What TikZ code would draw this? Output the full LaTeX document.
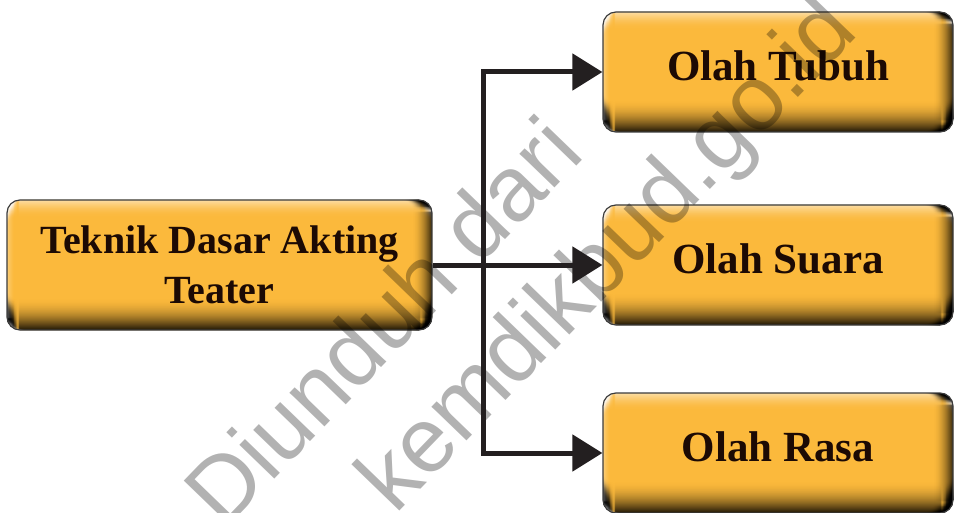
\documentclass[tikz,border=0pt]{standalone}
\usepackage{fontspec}
\setmainfont{Liberation Serif}
\newfontfamily\wmfont{Liberation Sans}
\usetikzlibrary{arrows.meta,calc}

\definecolor{boxbase}{HTML}{FBB93C}
\definecolor{txtc}{HTML}{1C0A04}
\definecolor{linec}{HTML}{231F20}
\definecolor{borderc}{HTML}{3C3C3C}

\tikzset{
  bevel/.style={path picture={
    \foreach \k [evaluate=\k as \op using {0.82*(1-\k/32)*(1-\k/32)}] in {0,...,31}
      \fill[black, opacity=\op] ($(path picture bounding box.south west)+(0,\k)$) rectangle ($(path picture bounding box.south east)+(0,\k+1)$);
    \foreach \k [evaluate=\k as \op using {0.5*(1-\k/18)*(1-\k/18)}] in {0,...,17}
      \fill[white, opacity=\op] ($(path picture bounding box.north west)+(0,-\k-1)$) rectangle ($(path picture bounding box.north east)+(0,-\k)$);
    \foreach \k [evaluate=\k as \op using {0.7*(1-\k/20)*(1-\k/20)}] in {0,...,19}
      \fill[black, opacity=\op] ($(path picture bounding box.south east)+(-\k-1,0)$) rectangle ($(path picture bounding box.north east)+(-\k,0)$);
    \foreach \k [evaluate=\k as \op using {0.3*(1-\k/8)*(1-\k/8)}] in {0,...,7}
      \fill[white, opacity=\op] ($(path picture bounding box.south west)+(\k,0)$) rectangle ($(path picture bounding box.north west)+(\k+1,0)$);
  }},
  goldbox/.style={rounded corners=13pt, draw=borderc, line width=1.2pt,
    fill=boxbase, bevel, text=txtc, align=center, inner sep=0pt},
  rightbox/.style={goldbox, minimum width=350pt, minimum height=120pt,
    font=\fontsize{43}{52}\selectfont\bfseries, text height=29pt, text depth=12pt},
  conn/.style={draw=linec, line width=5pt},
  tip/.tip={Triangle[length=30pt,width=36pt]},
  wm/.style={text=black, text opacity=0.3, font=\wmfont\fontsize{92}{100}\selectfont, rotate=46, inner sep=0pt, anchor=base west}
}

\begin{document}
\begin{tikzpicture}[x=1pt,y=1pt]
\useasboundingbox (0,0) rectangle (955,512);
\clip (0,0) rectangle (955,512);

\node[goldbox, minimum width=425pt, minimum height=130pt,
      font=\fontsize{40}{50}\selectfont\bfseries] (L) at (219.5,247) {Teknik Dasar Akting\\Teater};
\node[rightbox] (T) at (778,440) {Olah Tubuh};
\node[rightbox] (S) at (778,247) {Olah Suara};
\node[rightbox] (R) at (778,59) {Olah Rasa};

\node[wm] (wm1) at (224,-19) {Diunduh dari};
\node[wm] (wm2) at (395,-4) {kemdikbud.go.id};

\coordinate (tx) at (483,0);
\draw[conn, tip-tip] (T.west) -- (T.west -| tx) -- (R.west -| tx) -- (R.west);
\draw[conn, -tip] (L.east) -- (S.west);
\end{tikzpicture}
\end{document}
